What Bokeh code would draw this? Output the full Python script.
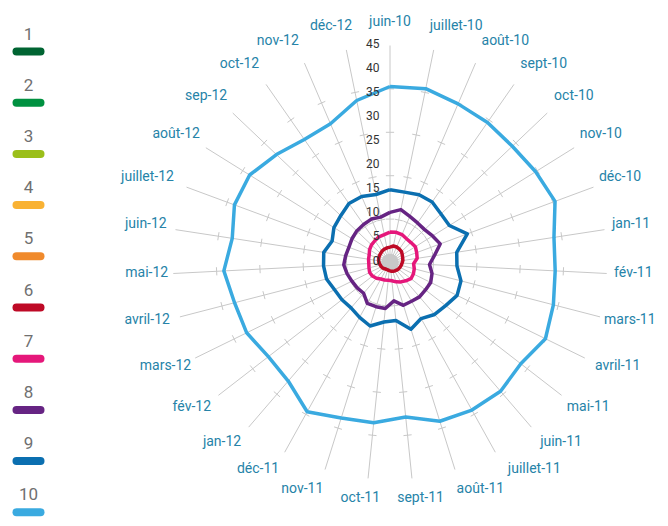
import numpy as np
from bokeh.plotting import figure
from bokeh.models import Range1d
from bokeh.embed import file_html
from bokeh.resources import INLINE
from bokeh.core.properties import value

months = ["juin-10", "juillet-10", "août-10", "sept-10", "oct-10", "nov-10", "déc-10",
          "jan-11", "fév-11", "mars-11", "avril-11", "mai-11", "juin-11", "juillet-11",
          "août-11", "sept-11", "oct-11", "nov-11", "déc-11", "jan-12", "fév-12",
          "mars-12", "avril-12", "mai-12", "juin-12", "juillet-12", "août-12", "sep-12",
          "oct-12", "nov-12", "déc-12"]

s6 = [3.2, 3.5, 3.5, 3.4, 3.3, 3.0, 2.8, 2.7, 2.5, 2.4, 2.3, 2.2, 2.1, 2.0, 1.9, 1.8,
      1.7, 1.6, 1.6, 1.7, 1.9, 2.0, 2.1, 2.2, 2.4, 2.5, 2.6, 2.7, 2.9, 3.0, 3.1]
s7 = [6.3, 6.4, 6.3, 6.0, 6.0, 6.2, 5.9, 5.7, 4.9, 5.2, 5.4, 5.5, 5.0, 4.6, 4.2, 3.8,
      3.7, 3.8, 3.9, 4.3, 4.6, 4.7, 4.5, 4.4, 4.5, 4.6, 5.0, 5.3, 5.5, 5.8, 5.9]
s8 = [10.4, 11.2, 10.4, 10.0, 9.9, 10.4, 11.1, 9.3, 8.2, 9.0, 9.4, 9.3, 9.4, 9.2, 9.3, 8.0,
      9.6, 9.6, 9.7, 8.4, 8.6, 8.8, 9.2, 9.6, 9.3, 9.1, 9.3, 9.5, 9.6, 9.8, 9.6]
s9 = [15.1, 14.9, 15.3, 15.3, 14.6, 14.5, 17.1, 14.0, 13.9, 15.2, 15.5, 14.6, 14.2, 13.3,
      14.5, 12.1, 12.4, 13.8, 13.0, 12.4, 12.6, 12.8, 13.6, 13.8, 13.9, 12.8, 13.7, 14.1,
      14.9, 14.9, 14.4]
s10 = [36.5, 36.8, 35.8, 35.4, 35.0, 35.6, 36.5, 34.4, 34.3, 35.0, 35.9, 34.3, 35.2, 35.0,
       34.5, 32.2, 33.4, 33.8, 35.4, 32.4, 31.9, 33.1, 33.3, 34.5, 33.1, 34.4, 34.3, 32.5,
       31.1, 31.3, 34.3]
series = [s6, s7, s8, s9, s10]
series_colors = ["#be0a26", "#e5177a", "#662483", "#0b6fb0", "#3aaae0"]

legend_labels = ["1", "2", "3", "4", "5", "6", "7", "8", "9", "10"]
legend_colors = ["#006432", "#009140", "#9bbf1a", "#f9b233", "#f08a2c",
                 "#be0a26", "#e5177a", "#662483", "#0b6fb0", "#3aaae0"]

ticks = [0, 5, 10, 15, 20, 25, 30, 35, 40, 45]
rmax = 45
minor_marks = [9, 18, 27, 36]
hub_radius = 1.8

FONT = "Roboto"
S = 4.822          # px per unit
CX, CY = 389.5, 262.0
W, H = 668, 526

def px(xp):
    return (xp - CX) / S

def py(yp):
    return (CY - yp) / S

p = figure(width=W, height=H,
           x_range=Range1d(px(0), px(W)), y_range=Range1d(py(H), py(0)),
           output_backend="svg", toolbar_location=None, min_border=0,
           x_axis_type=None, y_axis_type=None, outline_line_color=None,
           background_fill_color="white", border_fill_color="white")

N = len(months)
theta = 2 * np.pi * np.arange(N) / N
sn, cs = np.sin(theta), np.cos(theta)

# spokes
p.segment(x0=np.zeros(N), y0=np.zeros(N), x1=rmax * sn, y1=rmax * cs,
          line_color="#c8c8c8", line_width=1)
# tick marks on spokes
tx0, ty0, tx1, ty1 = [], [], [], []
for r in minor_marks:
    for k in range(N):
        mx, my = r * sn[k], r * cs[k]
        tx0.append(mx - 0.85 * cs[k]); ty0.append(my + 0.85 * sn[k])
        tx1.append(mx + 0.85 * cs[k]); ty1.append(my - 0.85 * sn[k])
p.segment(x0=tx0, y0=ty0, x1=tx1, y1=ty1, line_color="#c8c8c8", line_width=1)

# hub
p.circle(x=[0], y=[0], radius=hub_radius, fill_color="#c8c8c8", line_color=None)

# series
for vals, col in zip(series, series_colors):
    v = np.array(vals + vals[:1])
    t = np.append(theta, theta[0])
    p.line(v * np.sin(t), v * np.cos(t), line_color=col, line_width=3.5,
           line_join="round")

# value axis labels
p.text(x=[px(379)] * len(ticks), y=[t + 0.5 for t in ticks], text=[str(t) for t in ticks],
       text_align="right", text_baseline="middle", text_font=value(FONT),
       text_font_size="12px", text_color="#333333")

# month labels
ex, ey = rmax * sn, rmax * cs
xo, yo = [], []
for k, m in enumerate(months):
    w = len(m) * 6.2
    f = min(1.0, abs(sn[k]) / 0.35)
    xo.append(np.sign(sn[k]) * (w / 2 + 8) * f)
    yo.append(-3 - 22 * cs[k])
p.text(x=ex, y=ey, text=months, x_offset=xo, y_offset=yo,
       text_align="center", text_baseline="middle",
       text_font=value(FONT), text_font_size="14px",
       text_color="#2683a8")

# legend
ly = [51 + 51.2 * i for i in range(10)]
p.segment(x0=[px(16)] * 10, y0=[py(v) for v in ly], x1=[px(40)] * 10, y1=[py(v) for v in ly],
          line_color=legend_colors, line_width=8, line_cap="round")
p.text(x=[px(28)] * 10, y=[py(v - 18) for v in ly], text=legend_labels,
       text_align="center", text_baseline="middle",
       text_font=value(FONT), text_font_size="17px",
       text_color="#707070")

open("out.html", "w").write(file_html(p, INLINE))
